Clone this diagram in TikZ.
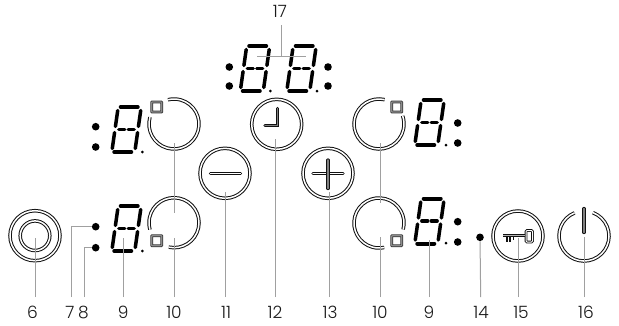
\documentclass[tikz,border=0pt]{standalone}
\usepackage{fontspec}
\setmainfont{Poppins Light}
\definecolor{ink}{HTML}{111111}
\definecolor{leadgray}{HTML}{A0A0A0}
\tikzset{
  ring/.style={draw=ink,line width=1pt,double=white,double distance=1.5pt},
  symb/.style={draw=ink,line width=.9pt,double=black!50,double distance=1.4pt,line cap=round},
  symw/.style={draw=ink,line width=.9pt,double=white,double distance=1.3pt,line cap=round},
  lead/.style={draw=leadgray,line width=1pt},
  seg/.style={draw=black,line width=4pt,line cap=round},
  midseg/.style={draw=black,line width=3.4pt,line cap=round},
  vseg/.style={draw=black,line width=3.5pt,line cap=round},
  num/.style={font=\fontsize{17}{18}\selectfont,text=black!90,inner sep=0pt,anchor=base},
  bigdot/.style={circle,fill=black,inner sep=0pt,minimum size=7.6pt},
  tinydot/.style={circle,fill=black,inner sep=0pt,minimum size=3pt},
  box/.style={draw=ink!85,line width=.9pt,double=black!45,double distance=1.1pt,rounded corners=.5pt}
}
\newcommand{\sevenseg}[2]{%
  \begin{scope}[shift={(#1+6.5,#2)},xslant=0.143]
    \draw[seg] (4.5,2)--(21.5,2);
    \draw[vseg] (2,5.5)--(2,21.5);
    \draw[vseg] (25,5.5)--(25,21.5);
    \draw[vseg] (2,27.5)--(2,43.5);
    \draw[vseg] (25,27.5)--(25,43.5);
    \draw[midseg] (5.8,24.5)--(11.8,24.5);
    \draw[midseg] (15.2,24.5)--(21.2,24.5);
    \draw[seg] (4.5,47)--(21.5,47);
  \end{scope}}
\newcommand{\ringarc}[4]{\draw[ring] ([shift={(-#3:#2)}]#1) arc[start angle=-#3,end angle=-#4,radius=#2];}
\begin{document}
\begin{tikzpicture}[x=1pt,y=-1pt]
\useasboundingbox[fill=white] (0,0) rectangle (619,325);
% ring centres
\coordinate (c6) at (35,235.7);
\coordinate (rTL) at (174,124);
\coordinate (rBL) at (174,222.7);
\coordinate (rTR) at (379,124);
\coordinate (rBR) at (379,223);
\coordinate (cclock) at (276.7,124.3);
\coordinate (cminus) at (225,173.3);
\coordinate (cplus) at (328,173.3);
\coordinate (ckey) at (518,236);
\coordinate (cpow) at (584,236);
% rings
\draw[ring] (c6) circle (25);
\draw[ring] (c6) circle (14.8);
\draw[ring] (cclock) circle (25);
\draw[ring] (cminus) circle (25);
\draw[ring] (cplus) circle (25);
\draw[ring] (ckey) circle (25);
\ringarc{rTL}{25}{164}{464}
\ringarc{rBL}{25}{258}{556}
\ringarc{rTR}{25}{77}{379}
\ringarc{rBR}{25}{-15}{282}
\ringarc{cpow}{25}{112}{429}
% small squares
\foreach \n/\x/\y in {sqa/156.7/107,sqb/156.7/240.7,sqc/396.7/107,sqd/396.7/240.7}{
  \coordinate (\n) at (\x,\y);
  \draw[box] (\n) ++(-5,-5) rectangle ++(10,10);
}
% symbols
\draw[symw] (210.5,173.3) -- (240.5,173.3);
\draw[symw] (313,173.3) -- (343,173.3);
\draw[symb] (328,160) -- (328,188.5);
\draw[symb] (277.5,108.5) -- (277.5,125.5) -- (265,125.5);
\draw[symb] (584,208.5) -- (584,232.5);
% key
\draw[ink,line width=.9pt,double=white,double distance=1pt,rounded corners=1pt] (526,230.5) rectangle (532.5,242);
\draw[ink,line width=.9pt,double=black!30,double distance=.9pt] (503,235.8) -- (525,235.8);
\fill[ink] (505.5,236) rectangle (507.5,242);
\fill[ink] (509,236) rectangle (511,242);
\fill[ink] (512.5,236) rectangle (513.8,240);
% digits
\sevenseg{110}{105}
\sevenseg{110}{204}
\sevenseg{238.5}{44}
\sevenseg{285}{44}
\sevenseg{413}{98}
\sevenseg{413}{196.5}
% dots
\foreach \n/\x/\y in {da/95.7/126.7,db/95.7/147,d7/95.7/226.7,d8/95.7/247.7,dc/229.3/67,dd/229.3/86,de/328/67,df/328/86,dg/457.7/123,dh/457.7/143,di/457.7/221.7,dj/457.7/242,d14/480/237.3}
  \node[bigdot] (\n) at (\x,\y) {};
\foreach \n/\x/\y in {ta/142.3/152,tb/142.3/251,tc/270.3/91,td/317/91,te/446/145,tf/446/243}
  \node[tinydot] (\n) at (\x,\y) {};
% labels
\foreach \n/\t/\x/\y in {l6/6/32.5/318.5,l7/7/70/318.5,l8/8/83.5/318.5,l9/9/123.3/318.5,l10/10/174/318.5,l11/11/226/318.5,l12/12/275/318.5,l13/13/330/318.5,l10b/10/380/318.5,l9b/9/429/318.5,l14/14/481/318.5,l15/15/521/318.5,l16/16/586/318.5,l17/17/280/17.5}
  \node[num] (\n) at (\x,\y) {\t};
% connector feet and tips
\foreach \n/\x/\y in {f6/35/297,f7/71/297,f8/84/297,f9/123.5/297,f10/174.5/297,f11/225.7/297,f12/275/297,f13/329/297,f10b/380.7/297,f9b/429.7/297,f14/480.7/297,f15/518.3/297,f16/584.7/297,
  t6/35/238,t9/123.5/238,t10/174.5/238,t11/225.7/192,t12/275/139,t13/329/192,t10b/380.7/237,t9b/429.7/240,t15/518.3/238,t16/584.7/237,
  u1/174.5/143,u2/174.5/213,v1/380.7/143,v2/380.7/203.3,s17/281.7/25,s17a/257/56,s17b/306/56,s17c/281.7/56}
  \coordinate (\n) at (\x,\y);
\draw[lead] (f6)--(t6);
\draw[lead] (f7)|-(d7);
\draw[lead] (f8)|-(d8);
\draw[lead] (f9)--(t9);
\draw[lead] (f10)--(t10);
\draw[lead] (f11)--(t11);
\draw[lead] (f12)--(t12);
\draw[lead] (f13)--(t13);
\draw[lead] (f10b)--(t10b);
\draw[lead] (f9b)--(t9b);
\draw[lead] (f14)--(d14);
\draw[lead] (f15)--(t15);
\draw[lead] (f16)--(t16);
\draw[lead] (u1)--(u2);
\draw[lead] (v1)--(v2);
\draw[lead] (s17)--(s17c);
\draw[lead] (s17a)--(s17b);
\end{tikzpicture}
\end{document}
